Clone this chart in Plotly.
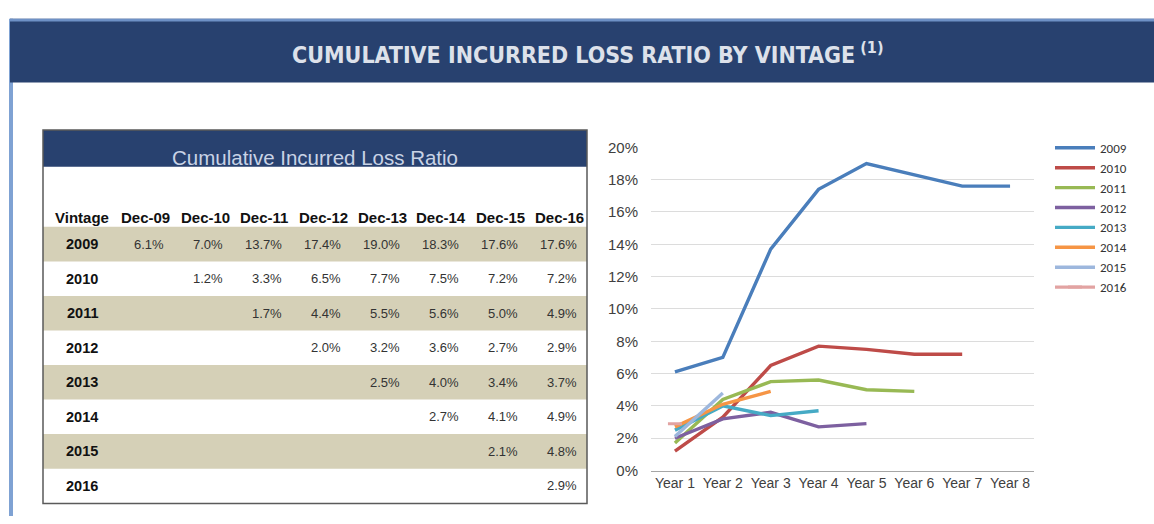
import plotly.graph_objects as go

# ---------------- data ----------------
vintages = ["2009", "2010", "2011", "2012", "2013", "2014", "2015", "2016"]
periods = ["Dec-09", "Dec-10", "Dec-11", "Dec-12", "Dec-13", "Dec-14", "Dec-15", "Dec-16"]
years = ["Year 1", "Year 2", "Year 3", "Year 4", "Year 5", "Year 6", "Year 7", "Year 8"]

lr_2009 = [6.1, 7.0, 13.7, 17.4, 19.0, 18.3, 17.6, 17.6]
lr_2010 = [None, 1.2, 3.3, 6.5, 7.7, 7.5, 7.2, 7.2]
lr_2011 = [None, None, 1.7, 4.4, 5.5, 5.6, 5.0, 4.9]
lr_2012 = [None, None, None, 2.0, 3.2, 3.6, 2.7, 2.9]
lr_2013 = [None, None, None, None, 2.5, 4.0, 3.4, 3.7]
lr_2014 = [None, None, None, None, None, 2.7, 4.1, 4.9]
lr_2015 = [None, None, None, None, None, None, 2.1, 4.8]
lr_2016 = [None, None, None, None, None, None, None, 2.9]
table_rows = [lr_2009, lr_2010, lr_2011, lr_2012, lr_2013, lr_2014, lr_2015, lr_2016]

y_ticks = [0, 2, 4, 6, 8, 10, 12, 14, 16, 18, 20]

colors = ["#4A7EBB", "#BE4B48", "#98B954", "#7D60A0", "#46AAC5", "#F69545", "#9DB7DD", "#E2A3A2"]

# ---------------- layout helpers ----------------
W, H = 1154, 524
def px(x):
    return x / W
def py(y):
    return 1 - y / H

NAVY = "#28416F"
BEIGE = "#D5D0B7"

fig = go.Figure()

for i, (v, row) in enumerate(zip(vintages, table_rows)):
    vals = [r / 100 for r in row if r is not None]
    fig.add_trace(go.Scatter(
        x=years[:len(vals)], y=vals, name=v,
        mode="lines" if len(vals) > 1 else "lines+markers",
        line=dict(color=colors[i], width=3.4),
        marker=dict(symbol="line-ew", size=10, line=dict(width=3, color=colors[i])),
        hoverinfo="x+y+name",
    ))

shapes = []
annotations = []

# left page border
shapes.append(dict(type="rect", xref="paper", yref="paper", x0=px(9), x1=px(13), y0=py(524), y1=py(10),
                   fillcolor="#7FA2D3", line=dict(width=0), layer="below"))
# banner
shapes.append(dict(type="rect", xref="paper", yref="paper", x0=px(10), x1=px(1154), y0=py(76), y1=py(10),
                   fillcolor=NAVY, line=dict(width=0), layer="below"))
shapes.append(dict(type="rect", xref="paper", yref="paper", x0=px(10), x1=px(1154), y0=py(13), y1=py(10),
                   fillcolor="#6E91C6", line=dict(width=0), layer="below"))
annotations.append(dict(xref="paper", yref="paper", x=px(588), y=py(45), showarrow=False,
                        text="<b>CUMULATIVE INCURRED LOSS RATIO BY VINTAGE<sup> (1)</sup></b>",
                        font=dict(family="DejaVu Sans Condensed, Liberation Sans Narrow, sans-serif", size=23,
                                  color="#DDE1EA"),
                        xanchor="center", yanchor="middle"))

# table header box
tx0, tx1, ty0, ty1 = 43, 587, 125, 511
shapes.append(dict(type="rect", xref="paper", yref="paper", x0=px(tx0), x1=px(tx1), y0=py(163), y1=py(ty0),
                   fillcolor=NAVY, line=dict(width=0), layer="below"))
annotations.append(dict(xref="paper", yref="paper", x=px(315), y=py(153), showarrow=False,
                        text="Cumulative Incurred Loss Ratio",
                        font=dict(family="Arial, Liberation Sans, sans-serif", size=20.5, color="#C9D3E6"),
                        xanchor="center", yanchor="middle"))

row_y0 = 243
row_step = 35.7
row_h = 35.7
label_x = 82
col_x0 = 146
col_step = 59.0

# beige bands
for i in range(len(vintages)):
    if i % 2 == 0:
        yc = row_y0 + i * row_step
        shapes.append(dict(type="rect", xref="paper", yref="paper", x0=px(tx0), x1=px(tx1),
                           y0=py(yc + row_h / 2), y1=py(yc - row_h / 2),
                           fillcolor=BEIGE, line=dict(width=0), layer="below"))

# table outline
shapes.append(dict(type="rect", xref="paper", yref="paper", x0=px(tx0), x1=px(tx1), y0=py(ty1), y1=py(ty0),
                   line=dict(color="#5A5A5A", width=1.5), fillcolor="rgba(0,0,0,0)", layer="above"))

font_hdr = dict(family="Arial, Liberation Sans, sans-serif", size=15, color="#111111")
font_lbl = dict(family="Arial, Liberation Sans, sans-serif", size=14.5, color="#111111")
font_val = dict(family="Arial, Liberation Sans, sans-serif", size=13, color="#333333")

annotations.append(dict(xref="paper", yref="paper", x=px(label_x), y=py(215), showarrow=False,
                        text="<b>Vintage</b>", font=font_hdr, xanchor="center", yanchor="middle"))
for j, p in enumerate(periods):
    annotations.append(dict(xref="paper", yref="paper", x=px(col_x0 + j * col_step), y=py(215), showarrow=False,
                            text="<b>" + p + "</b>", font=font_hdr, xanchor="center", yanchor="middle"))

for i, (v, row) in enumerate(zip(vintages, table_rows)):
    yc = row_y0 + i * row_step
    annotations.append(dict(xref="paper", yref="paper", x=px(label_x), y=py(yc), showarrow=False,
                            text="<b>" + v + "</b>", font=font_lbl, xanchor="center", yanchor="middle"))
    for j, val in enumerate(row):
        if val is None:
            continue
        annotations.append(dict(xref="paper", yref="paper", x=px(col_x0 + j * col_step + 20), y=py(yc),
                                showarrow=False, text=f"{val:.1f}%", font=font_val,
                                xanchor="right", yanchor="middle"))

fig.update_layout(
    width=W, height=H,
    margin=dict(l=0, r=0, t=0, b=0),
    paper_bgcolor="white", plot_bgcolor="white",
    showlegend=True,
    legend=dict(x=px(1050), y=py(128), xanchor="left", yanchor="top",
                font=dict(family="Carlito, Calibri, Arial, sans-serif", size=13, color="#333333"),
                tracegroupgap=0, itemwidth=40, bgcolor="rgba(0,0,0,0)"),
    xaxis=dict(domain=[px(651), px(1034)], type="category", categoryorder="array", categoryarray=years,
               range=[-0.5, 7.5], showgrid=False, showline=True, linecolor="#A6A6A6", linewidth=1,
               ticks="", tickfont=dict(family="Arial, sans-serif", size=14, color="#404040"), fixedrange=True),
    yaxis=dict(domain=[py(477), py(143)], range=[0, 0.2], tickvals=[t / 100 for t in y_ticks],
               tickformat=".0%", showgrid=True, gridcolor="#DCDCDC", gridwidth=1, zeroline=False,
               ticks="", ticklen=0, ticklabelstandoff=12,
               tickfont=dict(family="Arial, sans-serif", size=15, color="#404040"),
               fixedrange=True),
    shapes=shapes, annotations=annotations,
)

post = (
    "document.documentElement.style.margin='0';document.body.style.margin='0';"
    "document.body.style.overflow='hidden';document.documentElement.style.overflow='hidden';"
)

fig.write_html("out.html", config={"displayModeBar": False}, post_script=post)
